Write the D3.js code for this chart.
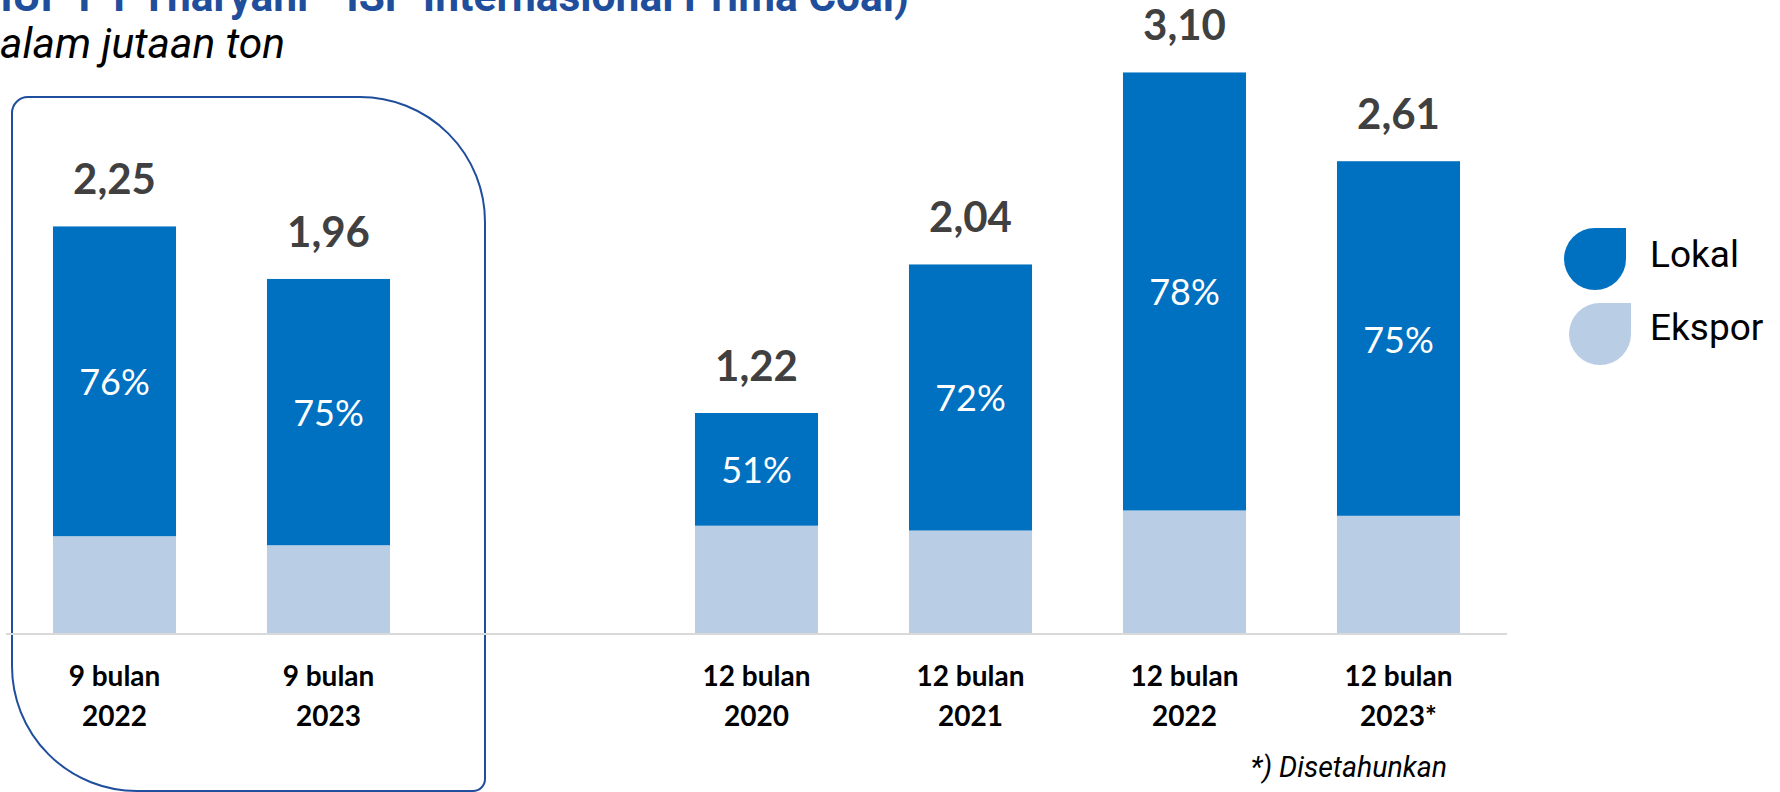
<!DOCTYPE html>
<html>
<head>
<meta charset="utf-8">
<script src="https://cdn.jsdelivr.net/npm/d3@7"></script>
<style>
  html, body { margin: 0; padding: 0; background: #fff; overflow: hidden; }
  svg { display: block; }
</style>
</head>
<body>
<div id="chart"></div>
<script>
// Chart data (production, in million tons)
const periods = ["9 bulan", "9 bulan", "12 bulan", "12 bulan", "12 bulan", "12 bulan"];
const years = ["2022", "2023", "2020", "2021", "2022", "2023*"];
const totals = [2.25, 1.96, 1.22, 2.04, 3.10, 2.61];
const lokalPct = [76, 75, 51, 72, 78, 75];
const seriesNames = ["Lokal", "Ekspor"];
const seriesColors = ["#0070c0", "#b9cde5"];

// Sizes
const width = 1780,
    height = 792,
    baseline = 634;

const svg = d3.select("#chart")
    .append("svg")
    .attr("width", width)
    .attr("height", height)
    .attr("viewBox", [0, 0, width, height]);

// Rows for the stack, one per bar
const keys = periods.map((p, i) => p + " " + years[i]);
const rows = keys.map((k, i) => ({
    key: k,
    lokal: totals[i] * lokalPct[i] / 100,
    ekspor: totals[i] * (100 - lokalPct[i]) / 100
}));

// Band domain has an empty slot between the 9 month and 12 month groups
const slots = [keys[0], keys[1], "gap", ...keys.slice(2)];

// Define x-scale
const x = d3.scaleBand()
    .domain(slots)
    .range([7.5, 7.5 + 214 * slots.length])
    .paddingInner(0.425)
    .paddingOuter(0.2125);

// Define y-scale
const y = d3.scaleLinear()
    .domain([0, 3.5])
    .range([baseline, 0]);

const stack = d3.stack().keys(["ekspor", "lokal"]);
const series = stack(rows);
const color = d3.scaleOrdinal()
    .domain(["lokal", "ekspor"])
    .range(seriesColors);

const locale = d3.formatLocale({decimal: ",", thousands: ".", grouping: [3], currency: ["", ""]});
const fmt = locale.format(".2f");

// Rounded frame round the 9 month group
const fx0 = 12, fy0 = 97, fx1 = 485, fy1 = 791;
const frame = d3.path();
frame.moveTo(fx0 + 16, fy0);
frame.lineTo(fx1 - 125, fy0);
frame.arcTo(fx1, fy0, fx1, fy0 + 125, 125);
frame.lineTo(fx1, fy1 - 12);
frame.arcTo(fx1, fy1, fx1 - 12, fy1, 12);
frame.lineTo(fx0 + 125, fy1);
frame.arcTo(fx0, fy1, fx0, fy1 - 125, 125);
frame.lineTo(fx0, fy0 + 16);
frame.arcTo(fx0, fy0, fx0 + 16, fy0, 16);
frame.closePath();
svg.append("path")
    .attr("d", frame.toString())
    .attr("fill", "none")
    .attr("stroke", "#1f4e9c")
    .attr("stroke-width", 2);

// Bars
svg.append("g")
    .selectAll("g")
    .data(series)
    .join("g")
    .attr("fill", d => color(d.key))
    .selectAll("rect")
    .data(d => d)
    .join("rect")
    .attr("x", d => x(d.data.key))
    .attr("y", d => y(d[1]))
    .attr("width", x.bandwidth())
    .attr("height", d => y(d[0]) - y(d[1]));

// Baseline
svg.append("line")
    .attr("x1", 6)
    .attr("x2", 1507)
    .attr("y1", baseline)
    .attr("y2", baseline)
    .attr("stroke", "#d9d9d9")
    .attr("stroke-width", 2);

// Percent labels inside the Lokal part
const lokalSeries = series.find(s => s.key === "lokal");
svg.append("g")
    .selectAll("text")
    .data(lokalSeries)
    .join("text")
    .attr("x", d => x(d.data.key) + x.bandwidth() / 2)
    .attr("y", d => (y(d[0]) + y(d[1])) / 2)
    .attr("text-anchor", "middle")
    .attr("dominant-baseline", "central")
    .attr("fill", "#fff")
    .style("font-family", "Lato, 'Open Sans', sans-serif")
    .style("font-size", "36px")
    .text((d, i) => lokalPct[i] + "%");

// Total labels above bars
svg.append("g")
    .selectAll("text")
    .data(rows)
    .join("text")
    .attr("x", d => x(d.key) + x.bandwidth() / 2)
    .attr("y", (d, i) => y(totals[i]) - 32)
    .attr("text-anchor", "middle")
    .attr("fill", "#404040")
    .style("font-family", "Lato, 'Open Sans', sans-serif")
    .style("font-weight", 700)
    .style("font-size", "42px")
    .text((d, i) => fmt(totals[i]));

// Category labels under the axis
const cat = svg.append("g")
    .selectAll("text")
    .data(rows)
    .join("text")
    .attr("text-anchor", "middle")
    .attr("fill", "#000")
    .style("font-family", "Lato, 'Open Sans', sans-serif")
    .style("font-weight", 700)
    .style("font-size", "28px");
cat.append("tspan")
    .attr("x", d => x(d.key) + x.bandwidth() / 2)
    .attr("y", 686)
    .text((d, i) => periods[i]);
cat.append("tspan")
    .attr("x", d => x(d.key) + x.bandwidth() / 2)
    .attr("y", 726)
    .text((d, i) => years[i]);

// Legend
const drop = (x0, y0, r) => `M${x0 + r},${y0}H${x0 + 2 * r}V${y0 + r}`
    + `A${r},${r} 0 0 1 ${x0 + r},${y0 + 2 * r}`
    + `A${r},${r} 0 0 1 ${x0},${y0 + r}`
    + `A${r},${r} 0 0 1 ${x0 + r},${y0}Z`;
const legend = svg.append("g")
    .selectAll("g")
    .data(seriesNames)
    .join("g")
    .attr("transform", (d, i) => `translate(${1564 + i * 5},${228 + i * 75})`);
legend.append("path")
    .attr("d", drop(0, 0, 31))
    .attr("fill", (d, i) => seriesColors[i]);
legend.append("text")
    .attr("x", (d, i) => 86 - i * 5)
    .attr("y", (d, i) => 39 - i * 2)
    .style("font-family", "Roboto, sans-serif")
    .style("font-size", "37px")
    .attr("fill", "#000")
    .text(d => d);

// Title (cut off at the top edge) and unit
svg.append("text")
    .attr("x", 909)
    .attr("y", 11)
    .attr("text-anchor", "end")
    .attr("fill", "#1f4e9c")
    .style("font-family", "Roboto, sans-serif")
    .style("font-weight", 700)
    .style("font-size", "42.5px")
    .text("Produksi Batubara (IUP PT Tharyani - ISP Internasional Prima Coal)");

svg.append("text")
    .attr("x", -27)
    .attr("y", 58)
    .attr("fill", "#000")
    .style("font-family", "Roboto, sans-serif")
    .style("font-style", "italic")
    .style("font-size", "42.5px")
    .text("Dalam jutaan ton");

// Footnote
svg.append("text")
    .attr("x", 1447)
    .attr("y", 777)
    .attr("text-anchor", "end")
    .attr("fill", "#000")
    .style("font-family", "Roboto, sans-serif")
    .style("font-style", "italic")
    .style("font-size", "28.5px")
    .text("*) Disetahunkan");
</script>
</body>
</html>
